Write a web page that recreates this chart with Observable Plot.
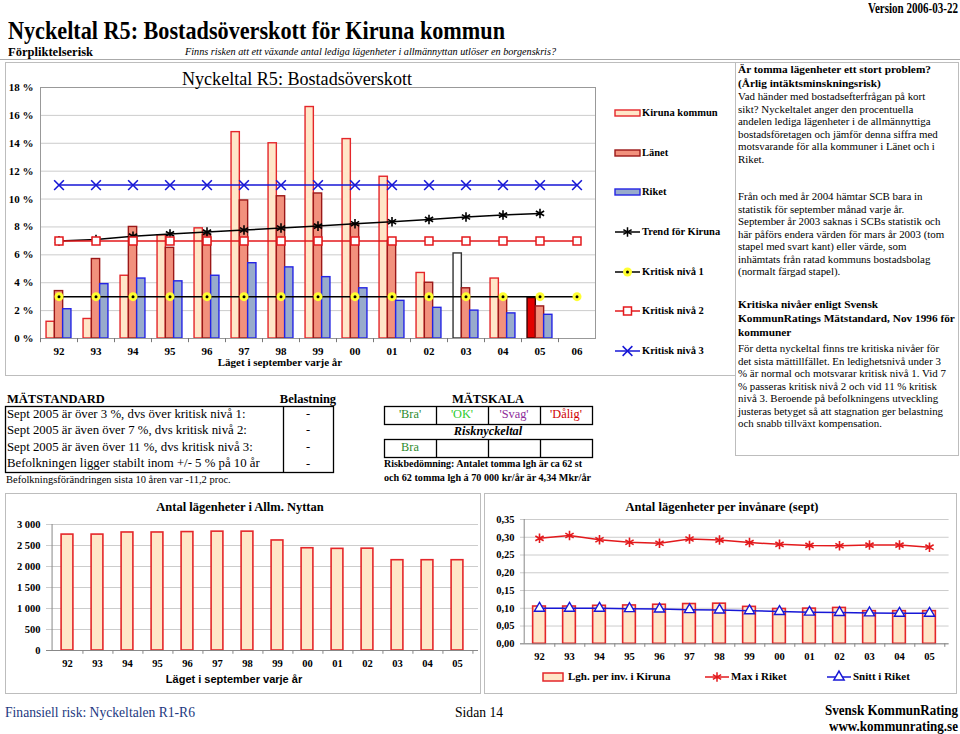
<!DOCTYPE html>
<html><head><meta charset="utf-8">
<script src="https://cdn.jsdelivr.net/npm/d3@7"></script>
<script src="https://cdn.jsdelivr.net/npm/@observablehq/plot@0.6"></script>
<style>
html,body{margin:0;padding:0;background:#fff;}
body{width:960px;height:734px;position:relative;overflow:hidden;font-family:"Liberation Serif","Times New Roman",serif;color:#000;}
.chart{position:absolute;}
#overlay{position:absolute;left:0;top:0;pointer-events:none;}
</style></head><body>
<div id="main" class="chart" style="left:0;top:62px"></div>
<div id="bl" class="chart" style="left:0;top:515px"></div>
<div id="br" class="chart" style="left:480px;top:510px"></div>
<svg id="overlay" width="960" height="734"></svg>
<script>
// ---------------- DATA ----------------
const years = ["92","93","94","95","96","97","98","99","00","01","02","03","04","05","06"];
const kirunaPct = [1.2,1.4,4.5,7.4,7.9,14.8,14.0,16.6,14.3,11.6,4.7,6.1,4.3,2.9];
const lanetPct  = [3.4,5.7,8.0,6.5,7.4,9.9,10.2,10.4,8.2,7.0,4.0,3.6,3.0,2.3];
const riketPct  = [2.1,3.9,4.3,4.1,4.5,5.4,5.1,4.4,3.6,2.7,2.2,2.0,1.8,1.7];
const trendPct  = [7.0,7.1,7.34,7.5,7.63,7.78,7.92,8.06,8.23,8.37,8.54,8.71,8.85,8.97];
const kritisk1  = [3,3,3,3,3,3,3,3,3,3,3,3,3,3,3];
const kritisk2  = [7,7,7,7,7,7,7,7,7,7,7,7,7,7,7];
const kritisk3  = [11,11,11,11,11,11,11,11,11,11,11,11,11,11,11];
const yTicksMain = [0,2,4,6,8,10,12,14,16,18];

const years2 = ["92","93","94","95","96","97","98","99","00","01","02","03","04","05"];
const lghAntal = [2760,2760,2810,2810,2820,2830,2830,2620,2435,2420,2425,2150,2150,2150];
const yTicksAntal = [0,500,1000,1500,2000,2500,3000];

const lghPerInv  = [0.105,0.105,0.107,0.108,0.110,0.112,0.113,0.104,0.098,0.099,0.101,0.092,0.092,0.092];
const maxRiket   = [0.297,0.305,0.293,0.286,0.283,0.295,0.292,0.285,0.280,0.277,0.276,0.278,0.278,0.272];
const snittRiket = [0.100,0.100,0.100,0.099,0.098,0.096,0.095,0.093,0.091,0.089,0.088,0.087,0.086,0.086];
const yTicksPerInv = [0,0.05,0.10,0.15,0.20,0.25,0.30,0.35];

// ---------------- STYLES ----------------
const SERIF = '"Liberation Serif","Times New Roman",serif';
const GRID = "#cccccc";
const KIR_FILL = "#FFE6C8", KIR_STROKE = "#E4262A";
const LAN_FILL = "#F2917D", LAN_STROKE = "#9B1818";
const RIK_FILL = "#98ABCC", RIK_STROKE = "#2424E4";
const RED = "#E3191C", BLUE = "#1717D6", YEL = "#FFFF30";

// ---------------- MAIN CHART ----------------
const xi = (arr) => (d, i) => arr[i];
const mainPlot = Plot.plot({
  width: 600, height: 313,
  marginLeft: 40, marginRight: 5, marginTop: 25, marginBottom: 37,
  style: {fontFamily: SERIF, fontSize: "11px", fontWeight: "bold", background: "transparent", color: "#000"},
  x: {type: "band", domain: years, padding: 0, label: null, tickSize: 0, tickPadding: 9},
  y: {domain: [0, 18], ticks: yTicksMain, tickFormat: d => d + " %", label: null, tickSize: 0, tickPadding: 7},
  marks: [
    Plot.ruleY(yTicksMain, {stroke: GRID}),
    Plot.barY(kirunaPct, {x: xi(years), y: d => d, dx: -8.3, insetLeft: 14.35, insetRight: 14.35,
      fill: (d, i) => years[i] === "03" ? "#ffffff" : years[i] === "05" ? "#E20000" : KIR_FILL,
      stroke: (d, i) => years[i] === "03" ? "#333333" : years[i] === "05" ? "#3a0000" : KIR_STROKE,
      strokeWidth: 1.4}),
    Plot.barY(lanetPct, {x: xi(years), y: d => d, insetLeft: 14.35, insetRight: 14.35,
      fill: LAN_FILL, stroke: LAN_STROKE, strokeWidth: 1.4}),
    Plot.barY(riketPct, {x: xi(years), y: d => d, dx: 8.3, insetLeft: 14.35, insetRight: 14.35,
      fill: RIK_FILL, stroke: RIK_STROKE, strokeWidth: 1.4}),
    Plot.frame({stroke: "#999"}),
    Plot.ruleX(years, {x: d => d, dx: -18.5, y1: 0, y2: -0.3, stroke: "#777"}),
    Plot.line(kritisk1, {x: xi(years), y: d => d, stroke: "#000", strokeWidth: 1.5}),
    Plot.dot(kritisk1, {x: xi(years), y: d => d, r: 4.5, fill: YEL, stroke: "none"}),
    Plot.dot(kritisk1, {x: xi(years), y: d => d, r: 1.5, fill: "#000", stroke: "none"}),
    Plot.line(trendPct, {x: xi(years), y: d => d, stroke: "#000", strokeWidth: 1.5}),
    Plot.dot(trendPct, {x: xi(years), y: d => d, symbol: "asterisk", r: 4.5, fill: "none", stroke: "#000", strokeWidth: 1.6}),
    Plot.line(kritisk2, {x: xi(years), y: d => d, stroke: RED, strokeWidth: 1.5}),
    Plot.dot(kritisk2, {x: xi(years), y: d => d, symbol: "square", r: 4.5, fill: "#fff", stroke: RED, strokeWidth: 1.5}),
    Plot.line(kritisk3, {x: xi(years), y: d => d, stroke: BLUE, strokeWidth: 1.5}),
    Plot.dot(kritisk3, {x: xi(years), y: d => d, symbol: "times", r: 4.5, fill: "none", stroke: BLUE, strokeWidth: 1.6})
  ]
});
document.getElementById("main").appendChild(mainPlot);

// ---------------- BOTTOM LEFT ----------------
const blPlot = Plot.plot({
  width: 480, height: 175,
  marginLeft: 46, marginRight: 2, marginTop: 9, marginBottom: 40,
  style: {fontFamily: SERIF, fontSize: "10.5px", fontWeight: "bold", background: "transparent", color: "#000"},
  x: {type: "band", domain: years2, padding: 0, label: null, tickSize: 0, tickPadding: 9},
  y: {domain: [0, 3000], ticks: yTicksAntal, tickFormat: d => d3.format(",")(d).replace(/,/g, " "), label: null, tickSize: 0, tickPadding: 6},
  marks: [
    Plot.ruleY(yTicksAntal, {stroke: GRID}),
    Plot.barY(lghAntal, {x: xi(years2), y: d => d, insetLeft: 9.1, insetRight: 9.1, fill: KIR_FILL, stroke: KIR_STROKE, strokeWidth: 1.6}),
    Plot.ruleY([0], {stroke: "#888"}),
    Plot.ruleX([years2[0]], {dx: -15.43, stroke: "#888"}),
    Plot.ruleX(years2, {x: d => d, dx: 15.43, y1: 0, y2: -90, stroke: "#888"})
  ]
});
document.getElementById("bl").appendChild(blPlot);

// ---------------- BOTTOM RIGHT ----------------
const brPlot = Plot.plot({
  width: 475, height: 160,
  marginLeft: 40, marginRight: 6.4, marginTop: 9, marginBottom: 26.7,
  style: {fontFamily: SERIF, fontSize: "10.5px", fontWeight: "bold", background: "transparent", color: "#000"},
  x: {type: "band", domain: years2, padding: 0, label: null, tickSize: 0, tickPadding: 9},
  y: {domain: [0, 0.35], ticks: yTicksPerInv, tickFormat: d => d.toFixed(2).replace(".", ","), label: null, tickSize: 0, tickPadding: 6},
  marks: [
    Plot.ruleY(yTicksPerInv, {stroke: GRID}),
    Plot.barY(lghPerInv, {x: xi(years2), y: d => d, insetLeft: 8.65, insetRight: 8.65, fill: KIR_FILL, stroke: KIR_STROKE, strokeWidth: 1.6}),
    Plot.ruleY([0], {stroke: "#888"}),
    Plot.ruleX([years2[0]], {dx: -15.3, stroke: "#888"}),
    Plot.ruleX(years2, {x: d => d, dx: 15.3, y1: 0, y2: -0.01, stroke: "#888"}),
    Plot.line(maxRiket, {x: xi(years2), y: d => d, stroke: RED, strokeWidth: 1.5}),
    Plot.dot(maxRiket, {x: xi(years2), y: d => d, symbol: "asterisk", r: 4.5, fill: "none", stroke: RED, strokeWidth: 1.6}),
    Plot.line(snittRiket, {x: xi(years2), y: d => d, stroke: BLUE, strokeWidth: 1.5}),
    Plot.dot(snittRiket, {x: xi(years2), y: d => d, symbol: "triangle", r: 3.8, fill: "#fff", stroke: BLUE, strokeWidth: 1.4})
  ]
});
document.getElementById("br").appendChild(brPlot);

// ---------------- TEXT HELPERS ----------------
function label(str, o) {
  const size = o.size || 12;
  const s = document.createElement("span");
  s.textContent = str;
  Object.assign(s.style, {
    position: "absolute", whiteSpace: "pre", display: "inline-block",
    fontFamily: o.family || SERIF, fontSize: size + "px", lineHeight: "1",
    fontWeight: o.weight || "normal", fontStyle: o.style || "normal",
    color: o.color || "#000", top: (o.y - size * 0.52) + "px", transformOrigin: "0 0"
  });
  document.body.appendChild(s);
  const w = s.getBoundingClientRect().width;
  const sx = o.width ? o.width / w : 1;
  const fw = w * sx;
  const anchor = o.anchor || "start";
  const left = anchor === "start" ? o.x : anchor === "end" ? o.x - fw : o.x - fw / 2;
  s.style.left = left + "px";
  if (o.width) s.style.transform = `scaleX(${sx})`;
  return s;
}

// Header
label("Version 2006-03-22", {x: 958, y: 9, size: 15, weight: "bold", anchor: "end", width: 90});
label("Nyckeltal R5: Bostadsöverskott för Kiruna kommun", {x: 8, y: 31, size: 25, weight: "bold", width: 497});
label("Förpliktelserisk", {x: 8, y: 52, size: 13.5, weight: "bold", width: 85});
label("Finns risken att ett växande antal lediga lägenheter i allmännyttan utlöser en borgenskris?", {x: 185, y: 52, size: 11, style: "italic", width: 371});

// Main chart title and axis label
label("Nyckeltal R5: Bostadsöverskott", {x: 182, y: 79, size: 18, weight: "normal", width: 230});
label("Läget i september varje år", {x: 280, y: 363, size: 11, weight: "bold", anchor: "middle"});

// Legend labels
const legendItems = [
  ["Kiruna kommun", 113], ["Länet", 153], ["Riket", 192], ["Trend för Kiruna", 232],
  ["Kritisk nivå 1", 272], ["Kritisk nivå 2", 311], ["Kritisk nivå 3", 351]
];
legendItems.forEach(([t, y]) => label(t, {x: 642, y, size: 10.5, weight: "bold"}));

// Right text panel
const p1b = ["Är tomma lägenheter ett stort problem?", "(Årlig intäktsminskningsrisk)"];
const p1 = ["Vad händer med bostadsefterfrågan på kort", "sikt? Nyckeltalet anger den procentuella",
  "andelen lediga lägenheter i de allmännyttiga", "bostadsföretagen och jämför denna siffra med",
  "motsvarande för alla kommuner i Länet och i", "Riket."];
const p2 = ["Från och med år 2004 hämtar SCB bara in", "statistik för september månad varje år.",
  "September år 2003 saknas i SCBs statistik och", "här påförs endera värden för mars år 2003 (tom",
  "stapel med svart kant) eller värde, som", "inhämtats från ratad kommuns bostadsbolag",
  "(normalt färgad stapel)."];
const p3b = ["Kritiska nivåer enligt Svensk", "KommunRatings Mätstandard, Nov 1996 för", "kommuner"];
const p3 = ["För detta nyckeltal finns tre kritiska nivåer för", "det sista mättillfället. En ledighetsnivå under 3",
  "% är normal och motsvarar kritisk nivå 1. Vid 7", "% passeras kritisk nivå 2 och vid 11 % kritisk",
  "nivå 3. Beroende på befolkningens utveckling", "justeras betyget så att stagnation ger belastning",
  "och snabb tillväxt kompensation."];
p1b.forEach((t, i) => label(t, {x: 738, y: 70 + i * 14, size: 11.3, weight: "bold"}));
p1.forEach((t, i) => label(t, {x: 738, y: 97 + i * 12.5, size: 10.9}));
p2.forEach((t, i) => label(t, {x: 738, y: 197 + i * 12.5, size: 10.9}));
p3b.forEach((t, i) => label(t, {x: 738, y: 305 + i * 14, size: 11.3, weight: "bold"}));
p3.forEach((t, i) => label(t, {x: 738, y: 349 + i * 12.5, size: 10.9}));

// Mätstandard table
label("MÄTSTANDARD", {x: 7, y: 399, size: 12.5, weight: "bold"});
label("Belastning", {x: 308, y: 399, size: 12.5, weight: "bold", anchor: "middle"});
const rows = ["Sept 2005 är över 3 %, dvs över kritisk nivå 1:", "Sept 2005 är även över 7 %, dvs kritisk nivå 2:",
  "Sept 2005 är även över 11 %, dvs kritisk nivå 3:", "Befolkningen ligger stabilt inom +/- 5 % på 10 år"];
const belastning = ["-", "-", "-", "-"];
rows.forEach((t, i) => label(t, {x: 7, y: 414.3 + i * 16.6, size: 12.8}));
belastning.forEach((t, i) => label(t, {x: 308, y: 414.3 + i * 16.6, size: 12.5, anchor: "middle"}));
label("Befolkningsförändringen sista 10 åren var -11,2 proc.", {x: 6, y: 480, size: 10.5});

// Mätskala
label("MÄTSKALA", {x: 488, y: 399, size: 12.5, weight: "bold", anchor: "middle"});
const scale = [["'Bra'", "#2E8B2E"], ["'OK'", "#2FCB2F"], ["'Svag'", "#8E2B9A"], ["'Dålig'", "#D00000"]];
scale.forEach(([t, c], i) => label(t, {x: 410 + i * 52, y: 414.3, size: 12.3, color: c, anchor: "middle"}));
label("Risknyckeltal", {x: 488, y: 431, size: 12.3, weight: "bold", style: "italic", anchor: "middle"});
label("Bra", {x: 410, y: 447.5, size: 12.3, color: "#2E8B2E", anchor: "middle"});
label("Riskbedömning: Antalet tomma lgh är ca 62 st", {x: 384, y: 465, size: 9.5, weight: "bold", width: 198});
label("och 62 tomma lgh á 70 000 kr/år är 4,34 Mkr/år", {x: 384, y: 479, size: 9.5, weight: "bold", width: 207});

// Bottom chart titles
label("Antal lägenheter i Allm. Nyttan", {x: 240, y: 507.5, size: 12.5, weight: "bold", anchor: "middle"});
label("Läget i september varje år", {x: 234, y: 680, size: 11, weight: "bold", anchor: "middle", family: '"Liberation Sans",Arial,sans-serif'});
label("Antal lägenheter per invånare (sept)", {x: 722, y: 507.5, size: 12.5, weight: "bold", anchor: "middle"});
label("Lgh. per inv. i Kiruna", {x: 568, y: 677, size: 11, weight: "bold"});
label("Max i Riket", {x: 731, y: 677, size: 11, weight: "bold"});
label("Snitt i Riket", {x: 853, y: 677, size: 11, weight: "bold"});

// Footer
label("Finansiell risk: Nyckeltalen R1-R6", {x: 5, y: 713, size: 15, color: "#23397F", width: 190});
label("Sidan 14", {x: 455, y: 713, size: 15, width: 48});
label("Svensk KommunRating", {x: 958, y: 711, size: 15, weight: "bold", anchor: "end", width: 133});
label("www.kommunrating.se", {x: 958, y: 727, size: 15, weight: "bold", anchor: "end", width: 129});

// ---------------- OVERLAY (borders, legend swatches) ----------------
const ov = d3.select("#overlay");
function box(x1, y1, x2, y2, c = "#bdbdbd", w = 1) {
  ov.append("rect").attr("x", x1 + 0.5).attr("y", y1 + 0.5).attr("width", x2 - x1).attr("height", y2 - y1)
    .attr("fill", "none").attr("stroke", c).attr("stroke-width", w);
}
function hline(x1, x2, y, c = "#bdbdbd", w = 1) {
  ov.append("line").attr("x1", x1).attr("x2", x2).attr("y1", y + 0.5).attr("y2", y + 0.5).attr("stroke", c).attr("stroke-width", w);
}
function vline(x, y1, y2, c = "#bdbdbd", w = 1) {
  ov.append("line").attr("x1", x + 0.5).attr("x2", x + 0.5).attr("y1", y1).attr("y2", y2).attr("stroke", c).attr("stroke-width", w);
}
hline(0, 960, 59, "#aaa");
box(5, 62, 735, 375);
box(735, 62, 958, 455);
box(5, 493, 480, 693);
box(484, 493, 956, 693);

// table boxes
box(5, 406, 333, 472, "#000", 1.3);
vline(283, 406, 472, "#000", 1.3);
box(384, 406, 592, 424, "#000", 1.3);
[436, 488, 540].forEach(x => vline(x, 406, 424, "#000", 1.3));
box(384, 439, 592, 457, "#000", 1.3);
[436, 488, 540].forEach(x => vline(x, 439, 457, "#000", 1.3));

// legend swatches (main)
function sw(y, fill, stroke) {
  ov.append("rect").attr("x", 615).attr("y", y - 3).attr("width", 25).attr("height", 6)
    .attr("fill", fill).attr("stroke", stroke).attr("stroke-width", 1.4);
}
sw(113, KIR_FILL, KIR_STROKE);
sw(153, LAN_FILL, LAN_STROKE);
sw(192, RIK_FILL, RIK_STROKE);
function lsw(x1, x2, y, color, symbol, r, fill, stroke) {
  ov.append("line").attr("x1", x1).attr("x2", x2).attr("y1", y).attr("y2", y).attr("stroke", color).attr("stroke-width", 1.5);
  if (symbol) ov.append("path").attr("transform", `translate(${(x1 + x2) / 2},${y})`)
    .attr("d", d3.symbol(symbol, Math.PI * r * r)()).attr("fill", fill).attr("stroke", stroke).attr("stroke-width", 1.5);
}
lsw(615, 640, 232, "#000", d3.symbolAsterisk, 4.5, "none", "#000");
lsw(615, 640, 272, "#000", d3.symbolCircle, 4.5, YEL, "none");
ov.append("circle").attr("cx", 627.5).attr("cy", 272).attr("r", 1.5).attr("fill", "#000");
lsw(615, 640, 311, RED, d3.symbolSquare, 4.5, "#fff", RED);
lsw(615, 640, 351, BLUE, d3.symbolTimes, 4.5, "none", BLUE);

// legend swatches (bottom right)
ov.append("rect").attr("x", 543).attr("y", 673).attr("width", 20).attr("height", 8)
  .attr("fill", KIR_FILL).attr("stroke", KIR_STROKE).attr("stroke-width", 1.5);
lsw(705, 729, 677, RED, d3.symbolAsterisk, 4.5, "none", RED);
lsw(827, 851, 677, BLUE, d3.symbolTriangle, 3.8, "#fff", BLUE);
</script></body></html>
